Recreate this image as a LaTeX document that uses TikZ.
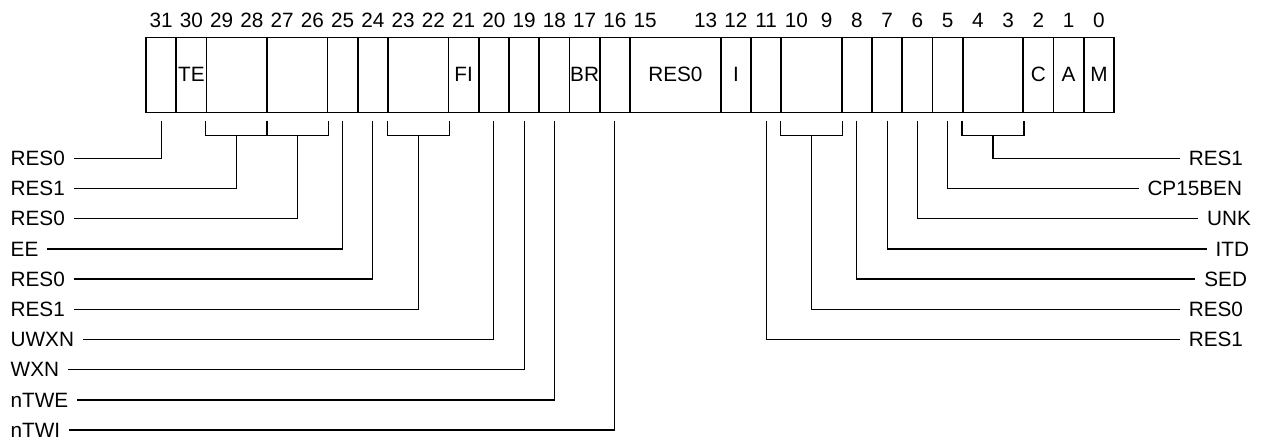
\documentclass[tikz,border=0pt]{standalone}
\usepackage{fontspec}
\setmainfont{Liberation Sans}

\begin{document}
\begin{tikzpicture}[x=0.02cm,y=-0.02cm,line width=0.7pt,font=\fontsize{11.8}{14}\selectfont,
    field/.style={draw,line width=0.9pt,minimum height=1.5cm,inner sep=0},
    bitno/.style={inner sep=0},
    lbl/.style={inner sep=0,outer xsep=0.18cm}] % register bits 31..0
  \useasboundingbox (0,0) rectangle (1265,440);
  \foreach \b in {0,...,13,15,16,...,31}
    \node[bitno] (n\b) at ({146+30.25*(31.5-\b)},20) {\b};
  \foreach \hi/\lo/\txt in {31/31/{},30/30/TE,29/28/{},27/26/{},25/25/{},24/24/{},23/22/{},
      21/21/FI,20/20/{},19/19/{},18/18/{},17/17/BR,16/16/{},15/13/RES0,12/12/I,11/11/{},
      10/9/{},8/8/{},7/7/{},6/6/{},5/5/{},4/3/{},2/2/C,1/1/A,0/0/M}
    \node[field,minimum width={(\hi-\lo+1)*0.605cm}] (f\lo) at ({146+30.25*(31.5-(\hi+\lo)/2)},74.8) {\txt};
  \foreach \t [count=\k from 0] in {RES0,RES1,RES0,EE,RES0,RES1,UWXN,WXN,nTWE,nTWI}
    \node[lbl,anchor=west] (L\k) at (1.7,{158.3+30.2*\k}) {\t};
  \foreach \t/\xe [count=\k from 0] in {RES1/1252,CP15BEN/1251,UNK/1260,ITD/1258,SED/1256,RES0/1252,RES1/1252}
    \node[lbl,anchor=east] (R\k) at (\xe,{158.3+30.2*\k}) {\t};
  % single bits
  \foreach \f/\k in {31/0,25/3,24/4,20/6,19/7,18/8,16/9}
    \draw ([yshift=-0.15cm]f\f.south) |- (L\k);
  \foreach \f/\k in {5/1,6/2,7/3,8/4,11/6}
    \draw ([yshift=-0.15cm]f\f.south) |- (R\k);
  % two-bit fields
  \foreach \f/\k in {28/1,26/2,22/5}
    \draw ([yshift=-0.15cm]f\f.south west) -- ++(0,15) -| ([yshift=-0.15cm]f\f.south east)
      ([yshift=-0.45cm]f\f.south) |- (L\k);
  \foreach \f/\k in {9/5,3/0}
    \draw ([yshift=-0.15cm]f\f.south west) -- ++(0,15) -| ([yshift=-0.15cm]f\f.south east)
      ([yshift=-0.45cm]f\f.south) |- (R\k);
\end{tikzpicture}
\end{document}
